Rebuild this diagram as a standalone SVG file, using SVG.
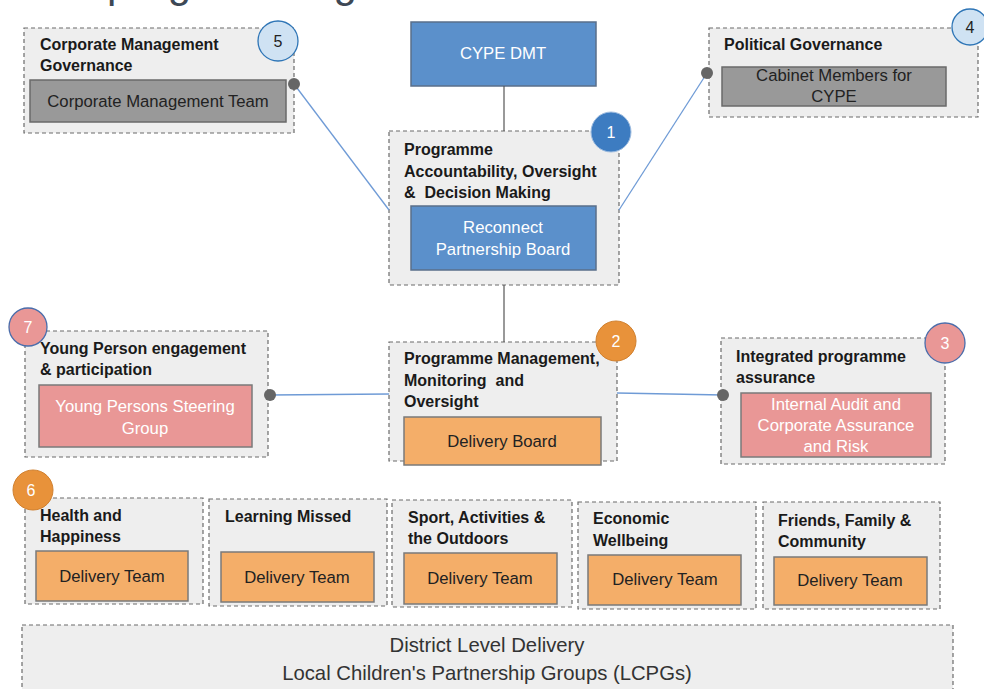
<svg xmlns="http://www.w3.org/2000/svg" width="984" height="689" viewBox="0 0 984 689">
<defs>
<style>
.grp{fill:#eeeeee;stroke:#6b6b6b;stroke-width:1.2;stroke-dasharray:4 3}
.gray{fill:#999999;stroke:#6a6a6a;stroke-width:1.5}
.blue{fill:#5b90cb;stroke:#5a6f8a;stroke-width:1.5}
.org{fill:#f4ae69;stroke:#7a7a7a;stroke-width:1.5}
.pink{fill:#e99796;stroke:#7a7a7a;stroke-width:1.5}
.h{font-family:"Liberation Sans",Arial,sans-serif;font-weight:bold;font-size:16px;fill:#1a1a1a;white-space:pre}
.t{font-family:"Liberation Sans",Arial,sans-serif;font-size:16.7px;fill:#222;text-anchor:middle}
.w{fill:#ffffff}
.n{font-family:"Liberation Sans",Arial,sans-serif;font-size:16px;text-anchor:middle}
.blu{stroke:#6f9bd6;stroke-width:1.3;fill:none}
.gl{stroke:#555;stroke-width:1.2;fill:none}
.dot{fill:#666}
.big{font-family:"Liberation Sans",Arial,sans-serif;font-size:20.3px;fill:#333;text-anchor:middle}
</style>
</defs>
<rect width="984" height="689" fill="#ffffff"/>
<text x="107" y="-3" font-family="Liberation Sans,Arial,sans-serif" font-size="42" fill="#3d4855">programme governance</text>

<g id="cype-dmt">
<rect class="blue" x="411" y="22" width="185" height="64"/>
<text class="t w" x="503" y="59">CYPE DMT</text>
</g>

<g id="corporate">
<rect class="grp" x="24" y="28" width="270" height="105"/>
<text class="h" x="40" y="50">Corporate Management</text>
<text class="h" x="40" y="71">Governance</text>
<rect class="gray" x="30" y="80" width="256" height="42"/>
<text class="t" x="158" y="107">Corporate Management Team</text>
<circle cx="278" cy="41" r="20" fill="#cfe2f3" stroke="#2e75b6" stroke-width="1.3"/>
<text class="n" x="278" y="47" fill="#222">5</text>
</g>

<g id="political">
<rect class="grp" x="709" y="28" width="269" height="89"/>
<text class="h" x="724" y="50">Political Governance</text>
<rect class="gray" x="722" y="67" width="224" height="39"/>
<text class="t" x="834" y="81">Cabinet Members for</text>
<text class="t" x="834" y="102">CYPE</text>
<circle cx="970" cy="27" r="18" fill="#cfe2f3" stroke="#2e75b6" stroke-width="1.3"/>
<text class="n" x="970" y="33" fill="#222">4</text>
</g>

<g id="accountability">
<rect class="grp" x="389" y="131" width="230" height="154"/>
<text class="h" x="404" y="155">Programme</text>
<text class="h" x="404" y="177">Accountability, Oversight</text>
<text class="h" x="404" y="198" xml:space="preserve">&amp;  Decision Making</text>
<rect class="blue" x="411" y="206" width="185" height="64"/>
<text class="t w" x="503" y="233">Reconnect</text>
<text class="t w" x="503" y="255">Partnership Board</text>
<circle cx="611" cy="132" r="20" fill="#3d7cc1" stroke="#9fbde0" stroke-width="1"/>
<text class="n w" x="611" y="138">1</text>
</g>

<g id="management">
<rect class="grp" x="389" y="342" width="228" height="119"/>
<text class="h" x="404" y="364">Programme Management,</text>
<text class="h" x="404" y="386" xml:space="preserve">Monitoring  and</text>
<text class="h" x="404" y="407">Oversight</text>
<rect class="org" x="404" y="417" width="197" height="48"/>
<text class="t" x="502" y="447">Delivery Board</text>
<circle cx="616" cy="341" r="20" fill="#e8923a" stroke="#d0802f" stroke-width="1"/>
<text class="n w" x="616" y="347">2</text>
</g>

<g id="young-person">
<rect class="grp" x="25" y="331" width="243" height="126"/>
<text class="h" x="40" y="354">Young Person engagement</text>
<text class="h" x="40" y="375">&amp; participation</text>
<rect class="pink" x="39" y="385" width="213" height="62"/>
<text class="t w" x="145" y="412">Young Persons Steering</text>
<text class="t w" x="145" y="434">Group</text>
<circle cx="28" cy="327" r="19" fill="#e99796" stroke="#4a6dab" stroke-width="1.3"/>
<text class="n w" x="28" y="333">7</text>
</g>

<g id="assurance">
<rect class="grp" x="721" y="338" width="224" height="126"/>
<text class="h" x="736" y="362">Integrated programme</text>
<text class="h" x="736" y="383">assurance</text>
<rect class="pink" x="741" y="393" width="190" height="64"/>
<text class="t w" x="836" y="410">Internal Audit and</text>
<text class="t w" x="836" y="431">Corporate Assurance</text>
<text class="t w" x="836" y="452">and Risk</text>
<circle cx="945" cy="343" r="20" fill="#e99796" stroke="#4a6dab" stroke-width="1.3"/>
<text class="n w" x="945" y="349">3</text>
</g>

<g id="health">
<rect class="grp" x="25" y="498" width="178" height="106"/>
<text class="h" x="40" y="521">Health and</text>
<text class="h" x="40" y="542">Happiness</text>
<rect class="org" x="36" y="551" width="152" height="50"/>
<text class="t" x="112" y="582">Delivery Team</text>
<circle cx="33" cy="490" r="20" fill="#e8923a" stroke="#d0802f" stroke-width="1"/>
<text class="n w" x="31" y="496">6</text>
</g>

<g id="learning">
<rect class="grp" x="209" y="499" width="178" height="107"/>
<text class="h" x="225" y="522">Learning Missed</text>
<rect class="org" x="221" y="552" width="153" height="50"/>
<text class="t" x="297" y="583">Delivery Team</text>
</g>

<g id="sport">
<rect class="grp" x="392" y="500" width="180" height="107"/>
<text class="h" x="408" y="523">Sport, Activities &amp;</text>
<text class="h" x="408" y="544">the Outdoors</text>
<rect class="org" x="404" y="553" width="153" height="51"/>
<text class="t" x="480" y="584">Delivery Team</text>
</g>

<g id="economic">
<rect class="grp" x="578" y="502" width="178" height="107"/>
<text class="h" x="593" y="524">Economic</text>
<text class="h" x="593" y="546">Wellbeing</text>
<rect class="org" x="588" y="555" width="153" height="50"/>
<text class="t" x="665" y="585">Delivery Team</text>
</g>

<g id="friends">
<rect class="grp" x="763" y="502" width="177" height="107"/>
<text class="h" x="778" y="526">Friends, Family &amp;</text>
<text class="h" x="778" y="547">Community</text>
<rect class="org" x="774" y="557" width="153" height="48"/>
<text class="t" x="850" y="586">Delivery Team</text>
</g>

<g id="district">
<rect class="grp" x="22" y="625" width="931" height="80"/>
<text class="big" x="487" y="652">District Level Delivery</text>
<text class="big" x="487" y="680">Local Children's Partnership Groups (LCPGs)</text>
</g>

<g id="connectors">
<line class="gl" x1="504" y1="86" x2="504" y2="131"/>
<line class="gl" x1="504" y1="285" x2="504" y2="342"/>
<line class="blu" x1="294" y1="84" x2="389" y2="210"/>
<line class="blu" x1="707" y1="73" x2="619" y2="210"/>
<line class="blu" x1="270" y1="395" x2="389" y2="394"/>
<line class="blu" x1="617" y1="393" x2="723" y2="395"/>
<circle class="dot" cx="294" cy="84" r="6"/>
<circle class="dot" cx="707" cy="73" r="6"/>
<circle class="dot" cx="270" cy="395" r="6"/>
<circle class="dot" cx="723" cy="395" r="6"/>
</g>
</svg>
